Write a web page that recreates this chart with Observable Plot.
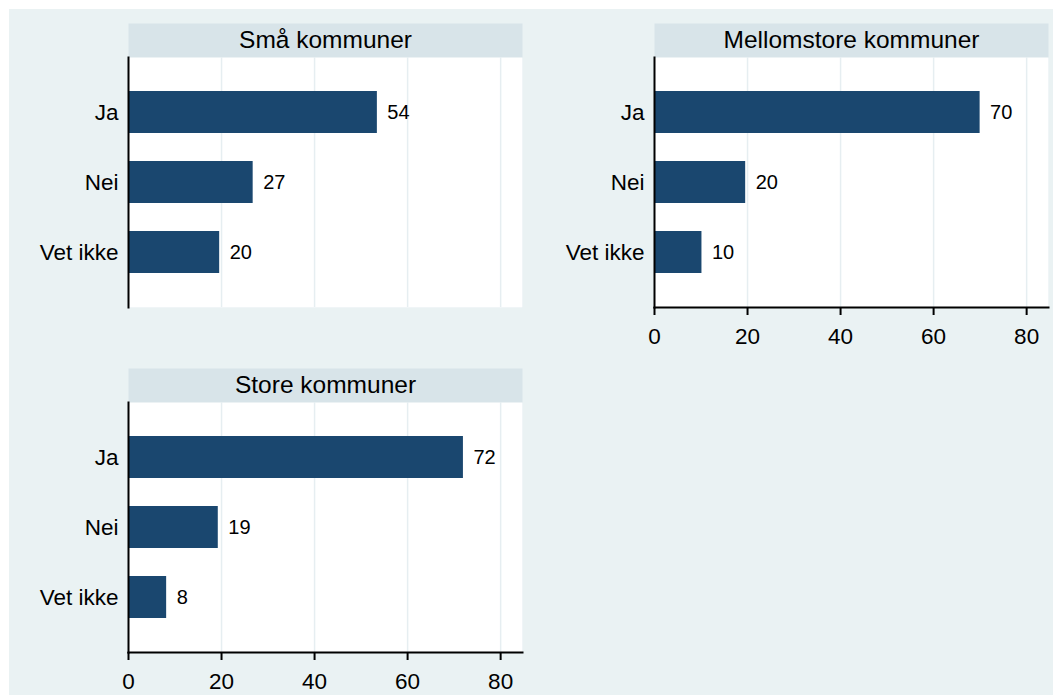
<!DOCTYPE html>
<html><head><meta charset="utf-8">
<script src="https://cdn.jsdelivr.net/npm/d3@7"></script>
<script src="https://cdn.jsdelivr.net/npm/@observablehq/plot@0.6"></script>
<style>
html,body{margin:0;padding:0;background:#fff;}
#bg{position:absolute;left:9px;top:9px;width:1044px;height:686px;background:#eaf2f3;}
#chart{position:absolute;left:0;top:0;}
</style></head><body>
<div id="bg"></div><div id="chart"></div>
<script>
// Data
const kommuner = ["Små kommuner", "Mellomstore kommuner", "Store kommuner"];
const svar = ["Ja", "Nei", "Vet ikke"];
const smaa = [53.5, 26.8, 19.6];
const mellomstore = [70.0, 19.6, 10.2];
const store = [72.0, 19.3, 8.2];
const xTicks = [0, 20, 40, 60, 80];

const series = [smaa, mellomstore, store];
const table = [];
kommuner.forEach((k, i) => {
  svar.forEach((s, j) => table.push({kommune: k, svar: s, pct: series[i][j], col: i % 2, row: Math.floor(i / 2)}));
});
const panels = kommuner.map((k, i) => ({kommune: k, col: i % 2, row: Math.floor(i / 2)}));

const font = "'Liberation Sans', Arial, sans-serif";
const plot = Plot.plot({
  width: 1053, height: 697,
  marginLeft: 128, marginRight: 5, marginTop: 57, marginBottom: 45,
  style: {background: "transparent", fontFamily: font, color: "#000"},
  fx: {axis: null, domain: [0, 1], paddingInner: 0.251, paddingOuter: 0},
  fy: {axis: null, domain: [0, 1], paddingInner: 0.2768, paddingOuter: 0},
  x: {domain: [0, 84.7], axis: null},
  y: {domain: svar, paddingInner: 0.404, paddingOuter: 0.468, axis: null},
  marks: [
    Plot.frame({fill: "#d8e4e9", stroke: "none", insetTop: -34}),
    Plot.frame({fill: "white", stroke: "none"}),
    Plot.gridX(xTicks.filter(t => t > 0), {stroke: "#e6eef1", strokeOpacity: 1, strokeWidth: 1.5, facetAnchor: null}),
    Plot.barX(table, {x: "pct", y: "svar", fx: "col", fy: "row", fill: "#1a476f"}),
    Plot.text(table, {x: "pct", y: "svar", fx: "col", fy: "row", text: d => String(Math.round(d.pct)), dx: 10, textAnchor: "start", fontSize: 20, fill: "#000"}),
    Plot.text(panels, {fx: "col", fy: "row", text: "kommune", frameAnchor: "top", dy: -17, lineAnchor: "middle", fontSize: 24.5, fill: "#000"}),
    Plot.frame({anchor: "left", stroke: "#000", strokeWidth: 2}),
    Plot.frame({anchor: "bottom", stroke: "#000", strokeWidth: 2, facetAnchor: "bottom-empty"}),
    Plot.axisY({facetAnchor: null, tickSize: 0, tickPadding: 10, fontSize: 22.5, label: null}),
    Plot.axisX(xTicks, {facetAnchor: "bottom-empty", tickSize: 8, tickPadding: 13, strokeWidth: 2, fontSize: 22.5, label: null})
  ]
});
document.getElementById("chart").append(plot);
</script>
</body></html>
